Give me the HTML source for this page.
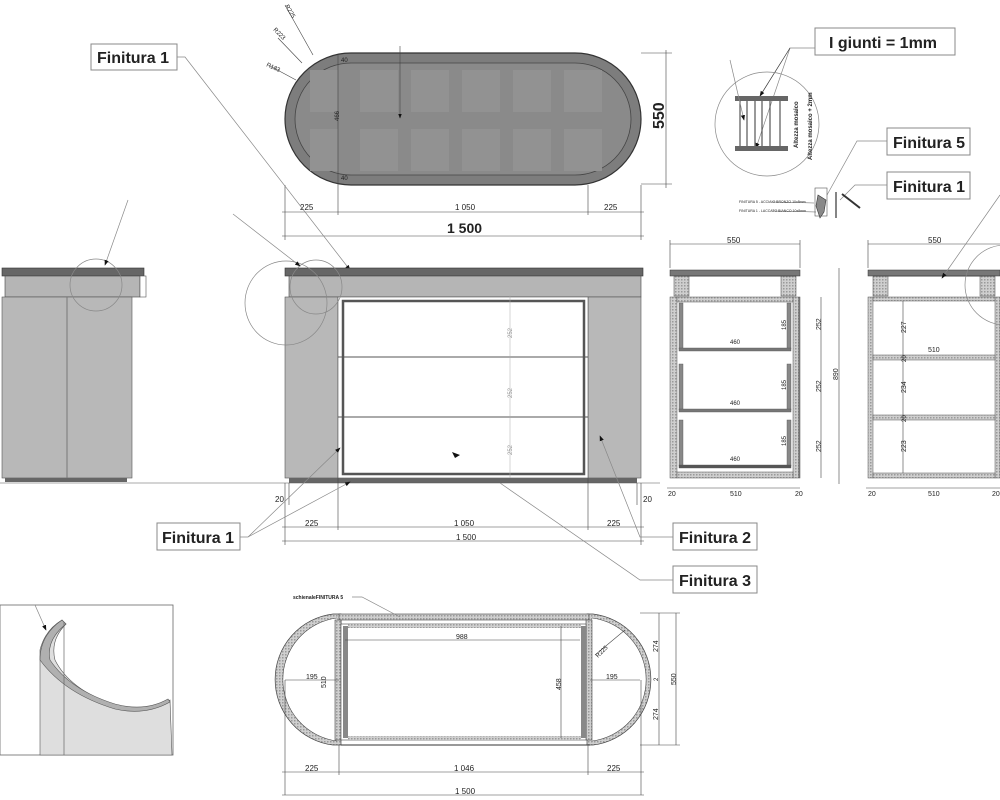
<!DOCTYPE html>
<html><head><meta charset="utf-8"><style>
html,body{margin:0;padding:0;background:#fff;}
svg{display:block;font-family:"Liberation Sans",Arial,sans-serif;}
.t{font-size:8px;fill:#222;}
.b{font-size:16px;font-weight:bold;fill:#222;}
.d{stroke:#444;stroke-width:0.6;fill:none;}
.l{stroke:#888;stroke-width:0.7;fill:none;}
</style></head><body>
<svg width="1000" height="800" viewBox="0 0 1000 800" xmlns="http://www.w3.org/2000/svg">
<defs>
<pattern id="hat" width="3" height="3" patternUnits="userSpaceOnUse"><rect width="3" height="3" fill="#cfcfcf"/><rect width="1.5" height="1.5" fill="#9a9a9a"/></pattern>
<marker id="ar" markerWidth="8" markerHeight="8" refX="7" refY="4" orient="auto"><path d="M0,1 L8,4 L0,7z" fill="#111"/></marker>
</defs>

<!-- TOP VIEW -->
<rect x="285" y="53" width="356" height="132" rx="66" fill="#7d7d7d" stroke="#333" stroke-width="1.2"/>
<rect x="295" y="63" width="336" height="112" rx="56" fill="#8a8a8a" stroke="#444" stroke-width="0.8"/>
<g fill="#929292">
<rect x="310" y="70" width="28" height="42"/><rect x="360" y="70" width="38" height="42"/><rect x="411" y="70" width="38" height="42"/><rect x="462" y="70" width="38" height="42"/><rect x="513" y="70" width="38" height="42"/><rect x="564" y="70" width="38" height="42"/>
<rect x="310" y="129" width="28" height="42"/><rect x="360" y="129" width="38" height="42"/><rect x="411" y="129" width="38" height="42"/><rect x="462" y="129" width="38" height="42"/><rect x="513" y="129" width="38" height="42"/><rect x="564" y="129" width="38" height="42"/>
</g>
<line x1="338" y1="55" x2="338" y2="215" class="d"/>
<line x1="400" y1="46" x2="400" y2="118" class="d" marker-end="url(#ar)"/>
<text class="t" transform="translate(339,121) rotate(-90)" style="font-size:6px">466</text>
<text class="t" x="341" y="62" style="font-size:6px">40</text><text class="t" x="341" y="180" style="font-size:6px">40</text>
<line x1="313" y1="55" x2="285" y2="5" class="d"/><text class="t" transform="translate(285,6) rotate(60)" style="font-size:6px">R225</text>
<line x1="302" y1="63" x2="278" y2="38" class="d"/><text class="t" transform="translate(273,30) rotate(45)" style="font-size:6px">R223</text>
<line x1="296" y1="80" x2="270" y2="66" class="d"/><text class="t" transform="translate(266,66) rotate(25)" style="font-size:6px">R183</text>
<line x1="641" y1="53" x2="672" y2="53" class="d"/><line x1="641" y1="184" x2="672" y2="184" class="d"/>
<line x1="666" y1="50" x2="666" y2="188" class="d"/>
<text class="b" transform="translate(664,129) rotate(-90)">550</text>
<line x1="285" y1="185" x2="285" y2="240" class="d"/><line x1="641" y1="185" x2="641" y2="240" class="d"/><line x1="588" y1="185" x2="588" y2="215" class="d"/>
<line x1="282" y1="212" x2="644" y2="212" class="d"/>
<text class="t" x="300" y="210">225</text><text class="t" x="455" y="210">1 050</text><text class="t" x="604" y="210">225</text>
<line x1="282" y1="236" x2="644" y2="236" class="d"/>
<text class="b" x="447" y="233" style="font-size:14px">1 500</text>

<!-- Finitura 1 top-left -->
<rect x="91" y="44" width="86" height="26" fill="#fff" stroke="#888"/>
<text class="b" x="97" y="63">Finitura 1</text>
<polyline points="177,57 185,57 350,270" class="l" marker-end="url(#ar)"/>

<!-- SIDE VIEW LEFT -->
<rect x="2" y="268" width="142" height="8" fill="#666" stroke="#333" stroke-width="0.6"/>
<rect x="5" y="276" width="135" height="21" fill="#b5b5b5" stroke="#444" stroke-width="0.6"/>
<rect x="140" y="276" width="6" height="21" fill="#fff" stroke="#555" stroke-width="0.6"/>
<rect x="2" y="297" width="130" height="181" fill="#b8b8b8" stroke="#555" stroke-width="0.6"/>
<line x1="67" y1="297" x2="67" y2="478" stroke="#777"/>
<rect x="5" y="478" width="122" height="4" fill="#666"/>
<ellipse cx="96" cy="285" rx="26" ry="26" class="l" stroke="#777"/>
<line x1="128" y1="200" x2="105" y2="265" class="l" marker-end="url(#ar)"/>

<!-- FRONT VIEW -->
<rect x="285" y="268" width="358" height="8" fill="#666" stroke="#333" stroke-width="0.6"/>
<rect x="289" y="276" width="352" height="21" fill="#b5b5b5" stroke="#444" stroke-width="0.6"/>
<rect x="285" y="297" width="53" height="181" fill="#b8b8b8" stroke="#555" stroke-width="0.6"/>
<rect x="588" y="297" width="53" height="181" fill="#b8b8b8" stroke="#555" stroke-width="0.6"/>
<rect x="338" y="297" width="250" height="181" fill="#fff" stroke="#555" stroke-width="0.6"/>
<rect x="343" y="301" width="241" height="173" fill="none" stroke="#555" stroke-width="2.5"/>
<line x1="338" y1="357" x2="588" y2="357" stroke="#555"/><line x1="338" y1="417" x2="588" y2="417" stroke="#555"/>
<line x1="510" y1="295" x2="510" y2="478" stroke="#aaa" stroke-width="0.5"/>
<text class="t" transform="translate(512,338) rotate(-90)" style="font-size:6px;fill:#999">252</text>
<text class="t" transform="translate(512,398) rotate(-90)" style="font-size:6px;fill:#999">252</text>
<text class="t" transform="translate(512,455) rotate(-90)" style="font-size:6px;fill:#999">252</text>
<rect x="289" y="478" width="348" height="5" fill="#666"/>
<line x1="0" y1="483" x2="660" y2="483" stroke="#555" stroke-width="0.6"/>
<ellipse cx="286" cy="303" rx="41" ry="42" class="l" stroke="#777"/>
<ellipse cx="316" cy="287" rx="26" ry="27" class="l" stroke="#777"/>
<line x1="233" y1="214" x2="300" y2="266" class="l" marker-end="url(#ar)"/>
<polygon points="452,452 460,455 455,458" fill="#111"/>
<!-- front dims -->
<line x1="285" y1="483" x2="285" y2="545" class="d"/><line x1="641" y1="483" x2="641" y2="545" class="d"/>
<line x1="338" y1="478" x2="338" y2="530" class="d"/><line x1="588" y1="478" x2="588" y2="530" class="d"/>
<line x1="289" y1="483" x2="289" y2="505" class="d"/><line x1="637" y1="483" x2="637" y2="505" class="d"/>
<text class="t" x="275" y="502">20</text><text class="t" x="643" y="502">20</text>
<line x1="282" y1="527" x2="644" y2="527" class="d"/>
<text class="t" x="305" y="526">225</text><text class="t" x="454" y="526">1 050</text><text class="t" x="607" y="526">225</text>
<line x1="282" y1="541" x2="644" y2="541" class="d"/>
<text class="t" x="456" y="540">1 500</text>
<!-- finitura labels -->
<rect x="157" y="523" width="83" height="27" fill="#fff" stroke="#888"/>
<text class="b" x="162" y="543">Finitura 1</text>
<polyline points="240,537 248,537 340,448" class="l" marker-end="url(#ar)"/>
<line x1="248" y1="537" x2="350" y2="482" class="l" marker-end="url(#ar)"/>
<rect x="673" y="523" width="84" height="27" fill="#fff" stroke="#888"/>
<text class="b" x="679" y="543">Finitura 2</text>
<polyline points="673,537 640,537 600,436" class="l" marker-end="url(#ar)"/>
<rect x="673" y="566" width="84" height="27" fill="#fff" stroke="#888"/>
<text class="b" x="679" y="586">Finitura 3</text>
<polyline points="673,580 640,580 500,483" class="l"/>

<!-- SECTION 1 -->
<g>
<line x1="670" y1="244" x2="800" y2="244" class="d"/><text class="t" x="727" y="243">550</text>
<line x1="670" y1="240" x2="670" y2="268" class="d"/><line x1="800" y1="240" x2="800" y2="268" class="d"/>
<rect x="670" y="270" width="130" height="6" fill="#777" stroke="#333" stroke-width="0.5"/>
<rect x="674" y="276" width="15" height="20" fill="url(#hat)" stroke="#444" stroke-width="0.5"/>
<rect x="781" y="276" width="15" height="20" fill="url(#hat)" stroke="#444" stroke-width="0.5"/>
<line x1="674" y1="276" x2="796" y2="276" stroke="#444"/>
<rect x="670" y="297" width="7" height="181" fill="url(#hat)" stroke="#555" stroke-width="0.5"/>
<rect x="793" y="297" width="7" height="181" fill="url(#hat)" stroke="#555" stroke-width="0.5"/>
<rect x="677" y="297" width="116" height="5" fill="url(#hat)" stroke="#555" stroke-width="0.5"/>
<rect x="677" y="472" width="116" height="6" fill="url(#hat)" stroke="#555" stroke-width="0.5"/>
<g fill="#888" stroke="#555" stroke-width="0.4">
<rect x="679" y="303" width="4" height="46"/><rect x="787" y="303" width="4" height="46"/><rect x="679" y="348" width="112" height="3" fill="#777"/>
<rect x="679" y="364" width="4" height="46"/><rect x="787" y="364" width="4" height="46"/><rect x="679" y="409" width="112" height="3" fill="#777"/>
<rect x="679" y="420" width="4" height="46"/><rect x="787" y="420" width="4" height="46"/><rect x="679" y="465" width="112" height="3" fill="#555"/>
</g>
<line x1="799" y1="297" x2="799" y2="478" stroke="#555"/>
<text class="t" x="730" y="344" style="font-size:6px">460</text><text class="t" x="730" y="405" style="font-size:6px">460</text><text class="t" x="730" y="461" style="font-size:6px">460</text>
<text class="t" transform="translate(786,330) rotate(-90)" style="font-size:6px">185</text>
<text class="t" transform="translate(786,390) rotate(-90)" style="font-size:6px">185</text>
<text class="t" transform="translate(786,446) rotate(-90)" style="font-size:6px">185</text>
<line x1="821" y1="297" x2="821" y2="478" class="d"/>
<text class="t" transform="translate(821,330) rotate(-90)" style="font-size:7px">252</text>
<text class="t" transform="translate(821,392) rotate(-90)" style="font-size:7px">252</text>
<text class="t" transform="translate(821,452) rotate(-90)" style="font-size:7px">252</text>
<line x1="839" y1="268" x2="839" y2="484" class="d"/>
<text class="t" transform="translate(838,380) rotate(-90)" style="font-size:7px">890</text>
<line x1="667" y1="488" x2="800" y2="488" class="d"/>
<text class="t" x="668" y="496" style="font-size:7px">20</text><text class="t" x="730" y="496" style="font-size:7px">510</text><text class="t" x="795" y="496" style="font-size:7px">20</text>
</g>
<!-- SECTION 2 -->
<g>
<line x1="868" y1="244" x2="1000" y2="244" class="d"/><text class="t" x="928" y="243">550</text>
<line x1="868" y1="240" x2="868" y2="268" class="d"/>
<rect x="868" y="270" width="132" height="6" fill="#777" stroke="#333" stroke-width="0.5"/>
<rect x="873" y="276" width="15" height="20" fill="url(#hat)" stroke="#444" stroke-width="0.5"/>
<rect x="980" y="276" width="15" height="20" fill="url(#hat)" stroke="#444" stroke-width="0.5"/>
<line x1="873" y1="276" x2="995" y2="276" stroke="#444"/>
<rect x="868" y="297" width="5" height="181" fill="url(#hat)" stroke="#555" stroke-width="0.5"/>
<rect x="995" y="297" width="5" height="181" fill="url(#hat)" stroke="#555" stroke-width="0.5"/>
<rect x="873" y="297" width="122" height="4" fill="url(#hat)" stroke="#555" stroke-width="0.5"/>
<rect x="873" y="355" width="122" height="5" fill="url(#hat)" stroke="#555" stroke-width="0.5"/>
<rect x="873" y="415" width="122" height="5" fill="url(#hat)" stroke="#555" stroke-width="0.5"/>
<rect x="873" y="473" width="122" height="5" fill="url(#hat)" stroke="#555" stroke-width="0.5"/>
<line x1="903" y1="301" x2="903" y2="473" class="d"/>
<text class="t" x="928" y="352" style="font-size:7px">510</text>
<text class="t" transform="translate(906,333) rotate(-90)" style="font-size:7px">227</text>
<text class="t" transform="translate(906,362) rotate(-90)" style="font-size:6px">20</text>
<text class="t" transform="translate(906,393) rotate(-90)" style="font-size:7px">234</text>
<text class="t" transform="translate(906,422) rotate(-90)" style="font-size:6px">20</text>
<text class="t" transform="translate(906,452) rotate(-90)" style="font-size:7px">223</text>
<line x1="866" y1="488" x2="1000" y2="488" class="d"/>
<text class="t" x="868" y="496" style="font-size:7px">20</text><text class="t" x="928" y="496" style="font-size:7px">510</text><text class="t" x="992" y="496" style="font-size:7px">20</text>
<circle cx="1005" cy="285" r="40" class="l" stroke="#777"/>
<line x1="1000" y1="195" x2="942" y2="278" class="l" marker-end="url(#ar)"/>
</g>

<!-- DETAIL TOP RIGHT -->
<rect x="815" y="28" width="140" height="27" fill="#fff" stroke="#888"/>
<text class="b" x="829" y="48">I giunti = 1mm</text>
<polyline points="815,48 790,48 756,148" class="l" stroke="#333" marker-end="url(#ar)"/>
<line x1="790" y1="48" x2="760" y2="96" stroke="#333" stroke-width="0.7" marker-end="url(#ar)"/>
<circle cx="767" cy="124" r="52" class="l" stroke="#666"/>
<rect x="735" y="96" width="53" height="5" fill="#666"/>
<rect x="735" y="146" width="53" height="5" fill="#666"/>
<g stroke="#555" stroke-width="1.2"><line x1="740" y1="101" x2="740" y2="146"/><line x1="747" y1="101" x2="747" y2="146"/><line x1="755" y1="101" x2="755" y2="146"/><line x1="762" y1="101" x2="762" y2="146"/><line x1="770" y1="101" x2="770" y2="146"/><line x1="780" y1="101" x2="780" y2="146"/></g>
<line x1="730" y1="60" x2="744" y2="120" class="l" stroke="#333" marker-end="url(#ar)"/>
<text class="t" transform="translate(798,148) rotate(-90)" style="font-size:6px;font-weight:bold">Altezza mosaico</text>
<text class="t" transform="translate(812,160) rotate(-90)" style="font-size:6px;font-weight:bold">Altezza mosaico + 2mm</text>
<rect x="887" y="128" width="83" height="27" fill="#fff" stroke="#888"/>
<text class="b" x="893" y="148">Finitura 5</text>
<polyline points="887,141 857,141 827,195" class="l"/>
<rect x="887" y="172" width="83" height="27" fill="#fff" stroke="#888"/>
<text class="b" x="893" y="192">Finitura 1</text>
<polyline points="887,185 855,185 840,200" class="l"/>
<rect x="815" y="188" width="12" height="28" fill="none" stroke="#555" stroke-width="0.6"/>
<path d="M818,195 L826,200 L824,212 L820,218 L816,206z" fill="#888" stroke="#333" stroke-width="0.6"/>
<line x1="836" y1="192" x2="836" y2="218" stroke="#333" stroke-width="1.2"/>
<line x1="842" y1="194" x2="860" y2="208" stroke="#333" stroke-width="2"/>
<text class="t" x="739" y="203" style="font-size:3.5px">FINITURA 5 - ACCIAIO BRONZO 10x8mm</text>
<text class="t" x="739" y="212" style="font-size:3.5px">FINITURA 1 - LACCATO BIANCO 10x8mm</text>
<line x1="772" y1="202" x2="814" y2="203" stroke="#555" stroke-width="0.5"/>
<line x1="772" y1="211" x2="816" y2="212" stroke="#555" stroke-width="0.5"/>

<!-- DETAIL BOTTOM LEFT -->
<rect x="0" y="605" width="173" height="150" fill="#fff" stroke="#666" stroke-width="0.8"/>
<path d="M40,755 L40,650 Q45,630 62,620 L66,624 Q50,640 55,660 Q70,690 115,705 Q145,715 170,700 L172,755z" fill="#dedede" stroke="#555" stroke-width="0.6"/>
<path d="M40,660 Q40,635 62,620 L66,624 Q46,640 50,660 Q70,690 115,704 Q145,712 168,699 L170,702 Q145,716 115,709 Q65,694 40,660z" fill="#b0b0b0" stroke="#555" stroke-width="0.6"/>
<line x1="64" y1="622" x2="64" y2="755" stroke="#666" stroke-width="0.7"/>
<line x1="35" y1="605" x2="46" y2="630" class="l" stroke="#666" marker-end="url(#ar)"/>

<!-- BOTTOM PLAN -->
<path d="M341,614 L333,614 A66,66 0 0 0 333,745 L341,745z" fill="url(#hat)" stroke="#444" stroke-width="0.7"/>
<path d="M337,618 A62,62 0 0 0 337,741" fill="#fff" stroke="#444" stroke-width="0.6"/>
<path d="M587,614 L593,614 A66,66 0 0 1 593,745 L587,745z" fill="url(#hat)" stroke="#444" stroke-width="0.7"/>
<path d="M592,618 A62,62 0 0 1 592,741" fill="#fff" stroke="#444" stroke-width="0.6"/>
<rect x="339" y="614" width="250" height="6" fill="url(#hat)" stroke="#444" stroke-width="0.6"/>
<rect x="335" y="620" width="6" height="120" fill="url(#hat)" stroke="#444" stroke-width="0.6"/>
<rect x="586" y="620" width="6" height="120" fill="url(#hat)" stroke="#444" stroke-width="0.6"/>
<rect x="341" y="624" width="245" height="116" fill="#fff" stroke="#444" stroke-width="0.6"/>
<rect x="343" y="626" width="5" height="112" fill="#888"/><rect x="581" y="626" width="5" height="112" fill="#888"/>
<rect x="348" y="624" width="233" height="4" fill="url(#hat)"/><rect x="348" y="736" width="233" height="4" fill="url(#hat)"/>
<line x1="341" y1="745" x2="590" y2="745" stroke="#333"/>
<text class="t" x="293" y="599" style="font-size:5px;font-weight:bold">schienaleFINITURA 5</text>
<polyline points="352,597 362,597 400,617" class="l" stroke="#333"/>
<line x1="345" y1="640" x2="580" y2="640" class="d"/><text class="t" x="456" y="639" style="font-size:7px">988</text>
<line x1="561" y1="626" x2="561" y2="738" class="d"/><text class="t" transform="translate(561,690) rotate(-90)" style="font-size:7px">458</text>
<line x1="285" y1="680" x2="339" y2="680" class="d"/><text class="t" x="306" y="679" style="font-size:7px">195</text>
<text class="t" transform="translate(326,688) rotate(-90)" style="font-size:7px">510</text>
<line x1="590" y1="680" x2="640" y2="680" class="d"/><text class="t" x="606" y="679" style="font-size:7px">195</text>
<line x1="595" y1="655" x2="625" y2="630" class="d"/><text class="t" transform="translate(598,658) rotate(-45)" style="font-size:6px">R225</text>
<line x1="640" y1="613" x2="680" y2="613" class="d"/><line x1="640" y1="745" x2="680" y2="745" class="d"/>
<line x1="659" y1="613" x2="659" y2="745" class="d"/><line x1="676" y1="613" x2="676" y2="745" class="d"/>
<text class="t" transform="translate(658,652) rotate(-90)" style="font-size:7px">274</text>
<text class="t" transform="translate(658,681) rotate(-90)" style="font-size:6px">2</text>
<text class="t" transform="translate(658,720) rotate(-90)" style="font-size:7px">274</text>
<text class="t" transform="translate(676,685) rotate(-90)" style="font-size:7px">550</text>
<line x1="285" y1="680" x2="285" y2="795" class="d"/><line x1="641" y1="680" x2="641" y2="795" class="d"/>
<line x1="339" y1="745" x2="339" y2="775" class="d"/><line x1="588" y1="745" x2="588" y2="775" class="d"/>
<line x1="282" y1="772" x2="644" y2="772" class="d"/>
<text class="t" x="305" y="771">225</text><text class="t" x="454" y="771">1 046</text><text class="t" x="607" y="771">225</text>
<line x1="282" y1="795" x2="644" y2="795" class="d"/>
<text class="t" x="455" y="794">1 500</text>
</svg>
</body></html>
